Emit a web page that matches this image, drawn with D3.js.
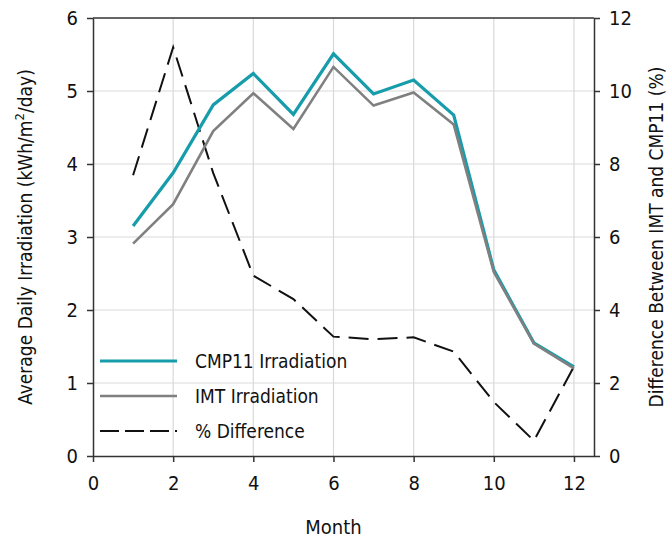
<!DOCTYPE html>
<html>
<head>
<meta charset="utf-8">
<script src="https://cdn.jsdelivr.net/npm/d3@7"></script>
<style>
  body { margin: 0; background: #fff; }
  svg text { font-family: "DejaVu Sans Condensed", "Liberation Sans Narrow", sans-serif; fill: #111; }
</style>
</head>
<body>
<div id="chart"></div>
<script>
var months = [1, 2, 3, 4, 5, 6, 7, 8, 9, 10, 11, 12];
var cmp11Irradiation = [3.15, 3.88, 4.81, 5.24, 4.68, 5.51, 4.96, 5.15, 4.67, 2.55, 1.55, 1.22];
var imtIrradiation = [2.91, 3.45, 4.45, 4.97, 4.48, 5.33, 4.80, 4.98, 4.54, 2.52, 1.54, 1.20];
var pctDifference = [7.69, 11.2, 7.75, 4.94, 4.3, 3.27, 3.2, 3.25, 2.86, 1.48, 0.42, 2.45];
var xTicks = [0, 2, 4, 6, 8, 10, 12];
var leftTicks = [0, 1, 2, 3, 4, 5, 6];
var rightTicks = [0, 2, 4, 6, 8, 10, 12];
var legendLabels = ["CMP11 Irradiation", "IMT Irradiation", "% Difference"];

var width = 670, height = 539;
var margin = {top: 18, right: 76, bottom: 83, left: 93};
var plotW = width - margin.left - margin.right,
    plotH = height - margin.top - margin.bottom;

var svg = d3.select("#chart").append("svg")
    .attr("width", width)
    .attr("height", height);

var g = svg.append("g").attr("transform", "translate(" + margin.left + "," + margin.top + ")");

var x = d3.scaleLinear().domain([0, 12.5]).range([0, plotW]);
var yLeft = d3.scaleLinear().domain([0, 6]).range([plotH, 0]);
var yRight = d3.scaleLinear().domain([0, 12]).range([plotH, 0]);

// grid
g.append("g").selectAll("line")
    .data(xTicks.slice(1))
    .enter().append("line")
    .attr("x1", function (d) { return x(d); })
    .attr("x2", function (d) { return x(d); })
    .attr("y1", 0).attr("y2", plotH)
    .attr("stroke", "#d9d9d9").attr("stroke-width", 1.2);
g.append("g").selectAll("line")
    .data(leftTicks.slice(1, -1))
    .enter().append("line")
    .attr("y1", function (d) { return yLeft(d); })
    .attr("y2", function (d) { return yLeft(d); })
    .attr("x1", 0).attr("x2", plotW)
    .attr("stroke", "#d9d9d9").attr("stroke-width", 1.2);

// top border
g.append("line")
    .attr("x1", 0).attr("x2", plotW).attr("y1", 0).attr("y2", 0)
    .attr("stroke", "#333").attr("stroke-width", 1.5);

function styleAxis(sel) {
    sel.select(".domain").attr("stroke", "#333").attr("stroke-width", 1.5);
    sel.selectAll(".tick line").attr("stroke", "#333").attr("stroke-width", 1.5);
    sel.selectAll(".tick text").style("font-size", "20px").attr("fill", "#111");
}

var fmt = d3.format("d");

g.append("g")
    .attr("transform", "translate(0," + plotH + ")")
    .call(d3.axisBottom(x).tickValues(xTicks).tickFormat(fmt).tickSize(6).tickSizeOuter(0).tickPadding(14))
    .call(styleAxis);

g.append("g")
    .call(d3.axisLeft(yLeft).tickValues(leftTicks).tickFormat(fmt).tickSize(6).tickSizeOuter(0).tickPadding(9))
    .call(styleAxis);

g.append("g")
    .attr("transform", "translate(" + plotW + ",0)")
    .call(d3.axisRight(yRight).tickValues(rightTicks).tickFormat(fmt).tickSize(6).tickSizeOuter(0).tickPadding(9))
    .call(styleAxis);

// lines
var lineLeft = d3.line()
    .x(function (d, i) { return x(months[i]); })
    .y(function (d) { return yLeft(d); });
var lineRight = d3.line()
    .x(function (d, i) { return x(months[i]); })
    .y(function (d) { return yRight(d); });

g.append("path")
    .attr("d", lineRight(pctDifference))
    .attr("fill", "none").attr("stroke", "#111").attr("stroke-width", 2)
    .attr("stroke-dasharray", "20,9");

g.append("path")
    .attr("d", lineLeft(cmp11Irradiation))
    .attr("fill", "none").attr("stroke", "#179cab").attr("stroke-width", 3.2);

g.append("path")
    .attr("d", lineLeft(imtIrradiation))
    .attr("fill", "none").attr("stroke", "#808080").attr("stroke-width", 2.6);

// legend
var legendStyles = [
    {color: "#179cab", w: 3.2, dash: null},
    {color: "#808080", w: 2.6, dash: null},
    {color: "#111", w: 2, dash: "19,6"}
];
var legend = svg.append("g").attr("transform", "translate(100,361)");
legendLabels.forEach(function (lab, i) {
    var row = legend.append("g").attr("transform", "translate(0," + (i * 35) + ")");
    row.append("line")
        .attr("x1", 0).attr("x2", 77).attr("y1", 0).attr("y2", 0)
        .attr("stroke", legendStyles[i].color)
        .attr("stroke-width", legendStyles[i].w)
        .attr("stroke-dasharray", legendStyles[i].dash);
    row.append("text")
        .attr("x", 95).attr("y", 7)
        .style("font-size", "19px")
        .text(lab);
});

// axis titles
svg.append("text")
    .attr("x", margin.left + x(6)).attr("y", 534)
    .attr("text-anchor", "middle")
    .style("font-size", "20px")
    .text("Month");

svg.append("text")
    .attr("transform", "translate(32," + (margin.top + plotH / 2) + ") rotate(-90)")
    .attr("text-anchor", "middle")
    .style("font-size", "19px")
    .html("Average Daily Irradiation (kWh/m<tspan dy='-8' font-size='13px'>2</tspan><tspan dy='8'>/day)</tspan>");

svg.append("text")
    .attr("transform", "translate(663," + (margin.top + plotH / 2) + ") rotate(-90)")
    .attr("text-anchor", "middle")
    .style("font-size", "19px")
    .text("Difference Between IMT and CMP11 (%)");
</script>
</body>
</html>
